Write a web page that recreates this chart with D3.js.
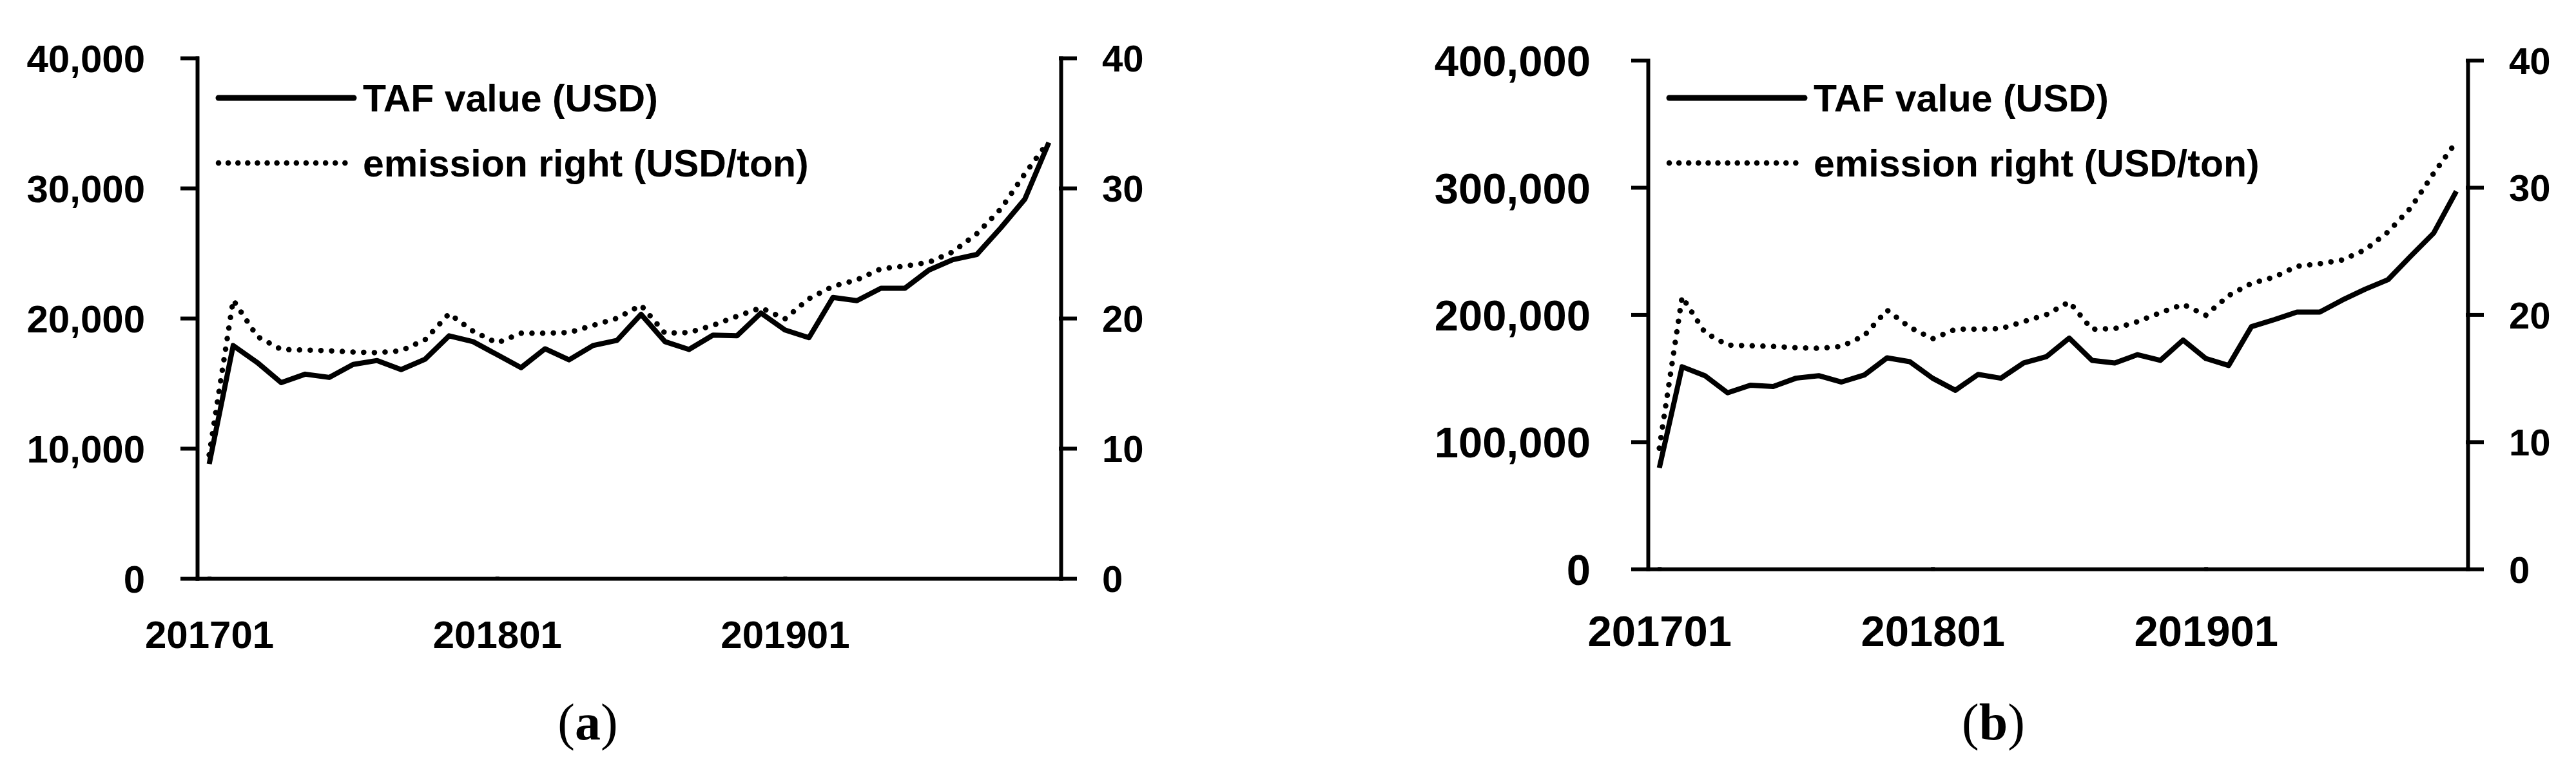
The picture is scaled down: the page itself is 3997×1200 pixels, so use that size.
<!DOCTYPE html>
<html>
<head>
<meta charset="utf-8">
<script src="https://cdn.jsdelivr.net/npm/d3@7"></script>
<style>
  body { margin: 0; background: #fff; }
  svg { display: block; background: #fff; }
  .axis text { font-family: "Liberation Sans", Arial, sans-serif; font-weight: bold; fill: #000; }
  .axis .domain, .axis .tick line { stroke: #000; stroke-width: 6; stroke-linecap: square; }
  .legend text { font-family: "Liberation Sans", Arial, sans-serif; font-weight: bold; font-size: 59px; }
  .caption { font-family: "Liberation Serif", "Times New Roman", serif; font-size: 80px; }
</style>
</head>
<body>
<div id="chart"></div>
<script>
// monthly categories, 2017-01 .. 2019-12
var months = ["201701","201702","201703","201704","201705","201706","201707","201708","201709","201710","201711","201712",
              "201801","201802","201803","201804","201805","201806","201807","201808","201809","201810","201811","201812",
              "201901","201902","201903","201904","201905","201906","201907","201908","201909","201910","201911","201912"];

// (a) TAF value, USD
var tafValueA = [8800, 17900, 16600, 15050, 15700, 15450, 16450, 16750, 16050, 16850, 18650, 18200,
                 17200, 16200, 17650, 16800, 17900, 18300, 20300, 18200, 17600, 18700, 18650, 20400,
                 19100, 18500, 21600, 21350, 22300, 22300, 23700, 24500, 24900, 26950, 29150, 33500];

// (b) TAF value, USD
var tafValueB = [79500, 159000, 152000, 138500, 144500, 143500, 150000, 152000, 147000, 152500, 166000, 163000,
                 150000, 140500, 153000, 150000, 162000, 167000, 181500, 164000, 162000, 168500, 164000, 180000,
                 165500, 160000, 190500, 196000, 202000, 202000, 211500, 220000, 227500, 246000, 264000, 297000];

// emission right, USD/ton (same series in both panels)
var emissionPrice = [9.5, 21.4, 18.6, 17.6, 17.55, 17.5, 17.4, 17.35, 17.5, 18.35, 20.35, 19.0,
                     18.1, 18.85, 18.85, 18.9, 19.45, 20.0, 21.0, 18.85, 18.9, 19.45, 20.15, 20.8,
                     19.95, 21.5, 22.45, 22.95, 23.8, 24.0, 24.3, 25.1, 26.5, 28.4, 31.1, 33.6];

var xTickLabels = ["201701", "201801", "201901"];
var leftTicksA = [0, 10000, 20000, 30000, 40000];
var leftTicksB = [0, 100000, 200000, 300000, 400000];
var rightTicks = [0, 10, 20, 30, 40];
var legendLabels = ["TAF value (USD)", "emission right (USD/ton)"];

var W = 3997, H = 1200;

var svg = d3.select("#chart").append("svg")
  .attr("width", W)
  .attr("height", H);

function drawPanel(cfg) {
  var g = svg.append("g");

  var x = d3.scalePoint().domain(months).range([cfg.left, cfg.right]).padding(0.5);
  var yL = d3.scaleLinear().domain([0, d3.max(cfg.leftTicks)]).range([cfg.bottom, cfg.top]);
  var yR = d3.scaleLinear().domain([0, d3.max(rightTicks)]).range([cfg.bottom, cfg.top]);

  // left axis
  var axL = g.append("g").attr("class", "axis")
    .attr("transform", "translate(" + cfg.left + ",0)")
    .call(d3.axisLeft(yL).tickValues(cfg.leftTicks).tickFormat(d3.format(","))
      .tickSize(23).tickSizeOuter(0).tickPadding(cfg.leftPad));
  axL.selectAll("text").style("font-size", cfg.fontSize + "px").attr("dy", "0.36em");

  // right axis
  var axR = g.append("g").attr("class", "axis")
    .attr("transform", "translate(" + cfg.right + ",0)")
    .call(d3.axisRight(yR).tickValues(rightTicks).tickSize(22).tickSizeOuter(0).tickPadding(42));
  axR.selectAll("text").style("font-size", "58px").attr("dy", "0.36em");

  // category axis
  var axB = g.append("g").attr("class", "axis")
    .attr("transform", "translate(0," + cfg.bottom + ")")
    .call(d3.axisBottom(x).tickValues(xTickLabels).tickSize(0).tickSizeOuter(0).tickPadding(cfg.xPad));
  axB.selectAll("text").style("font-size", cfg.fontSize + "px");

  var lineL = d3.line()
    .x(function(d, i) { return x(months[i]); })
    .y(function(d) { return yL(d); });
  var lineR = d3.line()
    .x(function(d, i) { return x(months[i]); })
    .y(function(d) { return yR(d); });

  g.append("path")
    .datum(emissionPrice)
    .attr("d", lineR)
    .attr("fill", "none")
    .attr("stroke", "#000")
    .attr("stroke-width", 8.5)
    .attr("stroke-linecap", "round")
    .attr("stroke-dasharray", "0.1 16.5");

  g.append("path")
    .datum(cfg.taf)
    .attr("d", lineL)
    .attr("fill", "none")
    .attr("stroke", "#000")
    .attr("stroke-width", 8)
    .attr("stroke-linejoin", "round");

  // legend
  var leg = g.append("g").attr("class", "legend");
  var rows = [{ y: 152, dash: null, w: 9 }, { y: 253, dash: "0.1 15", w: 8.5 }];
  rows.forEach(function(r, i) {
    leg.append("line")
      .attr("x1", cfg.left + 33).attr("x2", cfg.left + 243)
      .attr("y1", r.y).attr("y2", r.y)
      .attr("stroke", "#000")
      .attr("stroke-width", r.w)
      .attr("stroke-linecap", "round")
      .attr("stroke-dasharray", r.dash);
    leg.append("text")
      .attr("x", cfg.left + 257)
      .attr("y", r.y)
      .attr("dy", "0.36em")
      .text(legendLabels[i]);
  });

  // panel caption
  var cap = g.append("text").attr("class", "caption")
    .attr("x", cfg.captionX).attr("y", 1148)
    .attr("text-anchor", "middle");
  cap.append("tspan").text("(");
  cap.append("tspan").attr("font-weight", "bold").text(cfg.caption);
  cap.append("tspan").text(")");
}

drawPanel({ left: 306, right: 1646, top: 90, bottom: 898, taf: tafValueA, leftTicks: leftTicksA,
            fontSize: 60, leftPad: 58, xPad: 65, caption: "a", captionX: 912 });
drawPanel({ left: 2557, right: 3829, top: 93.5, bottom: 883.3, taf: tafValueB, leftTicks: leftTicksB,
            fontSize: 67, leftPad: 66, xPad: 72, caption: "b", captionX: 3093 });
</script>
</body>
</html>
